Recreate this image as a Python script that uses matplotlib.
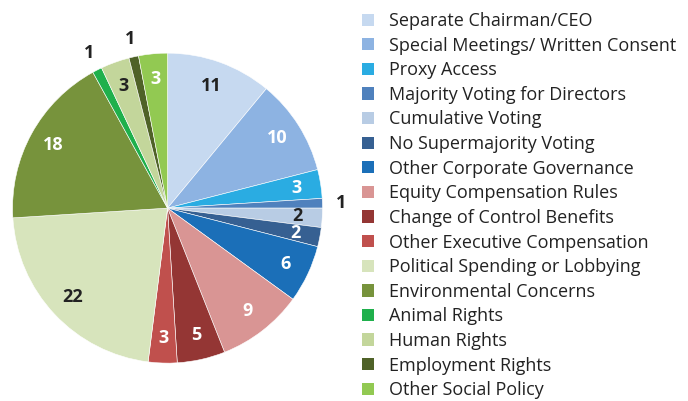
import matplotlib
matplotlib.use("Agg")
from matplotlib import pyplot as plt
from matplotlib.patches import Patch
import numpy as np

categories = ["Separate Chairman/CEO", "Special Meetings/ Written Consent", "Proxy Access",
              "Majority Voting for Directors", "Cumulative Voting", "No Supermajority Voting",
              "Other Corporate Governance", "Equity Compensation Rules",
              "Change of Control Benefits", "Other Executive Compensation",
              "Political Spending or Lobbying", "Environmental Concerns", "Animal Rights",
              "Human Rights", "Employment Rights", "Other Social Policy"]
counts = [11, 10, 3, 1, 2, 2, 6, 9, 5, 3, 22, 18, 1, 3, 1, 3]
colors = ["#C6D9F0", "#8DB3E2", "#2AACE2", "#4F81BD", "#B8CCE4", "#366092",
          "#1B6FB8", "#D99594", "#943634", "#C0504D", "#D7E4BC", "#77933C",
          "#1FB04C", "#C3D69B", "#4F6228", "#92C952"]
label_colors = ["#222222", "white", "white", "#222222", "#222222", "white", "white", "white",
                "white", "white", "#222222", "white", "#222222", "#222222", "#222222", "white"]
outside = [False, False, False, True, False, False, False, False,
           False, False, False, False, True, False, True, False]

plt.rcParams["font.family"] = ["Open Sans", "DejaVu Sans"]

fig = plt.figure(figsize=(6.88, 4.01), dpi=100)
ax = fig.add_axes([0.0182, 0.0945, 0.4506, 0.773])

wedges, _ = ax.pie(counts, colors=colors, startangle=90, counterclock=False,
                   wedgeprops=dict(edgecolor="white", linewidth=0.4))
ax.set_xlim(-1, 1)
ax.set_ylim(-1, 1)
ax.set_aspect("equal")

# value labels, small slices pushed outside the pie
total = sum(counts)
start = 90.0
for n, tc, out in zip(counts, label_colors, outside):
    mid = np.deg2rad(start - 360.0 * n / total / 2)
    r = 1.12 if out else 0.84
    ax.text(r * np.cos(mid), r * np.sin(mid), str(n), color=tc, fontsize=13,
            fontweight="bold", ha="center", va="center")
    start -= 360.0 * n / total

handles = [Patch(facecolor=c, edgecolor="none") for c in colors]
fig.legend(handles, categories, loc="upper left", bbox_to_anchor=(0.521, 0.979),
           frameon=False, fontsize=13, handlelength=0.665, handleheight=0.665,
           handletextpad=0.83, labelspacing=0.366, borderaxespad=0, borderpad=0.2,
           labelcolor="#222222")

fig.savefig("out.png", dpi=100)
